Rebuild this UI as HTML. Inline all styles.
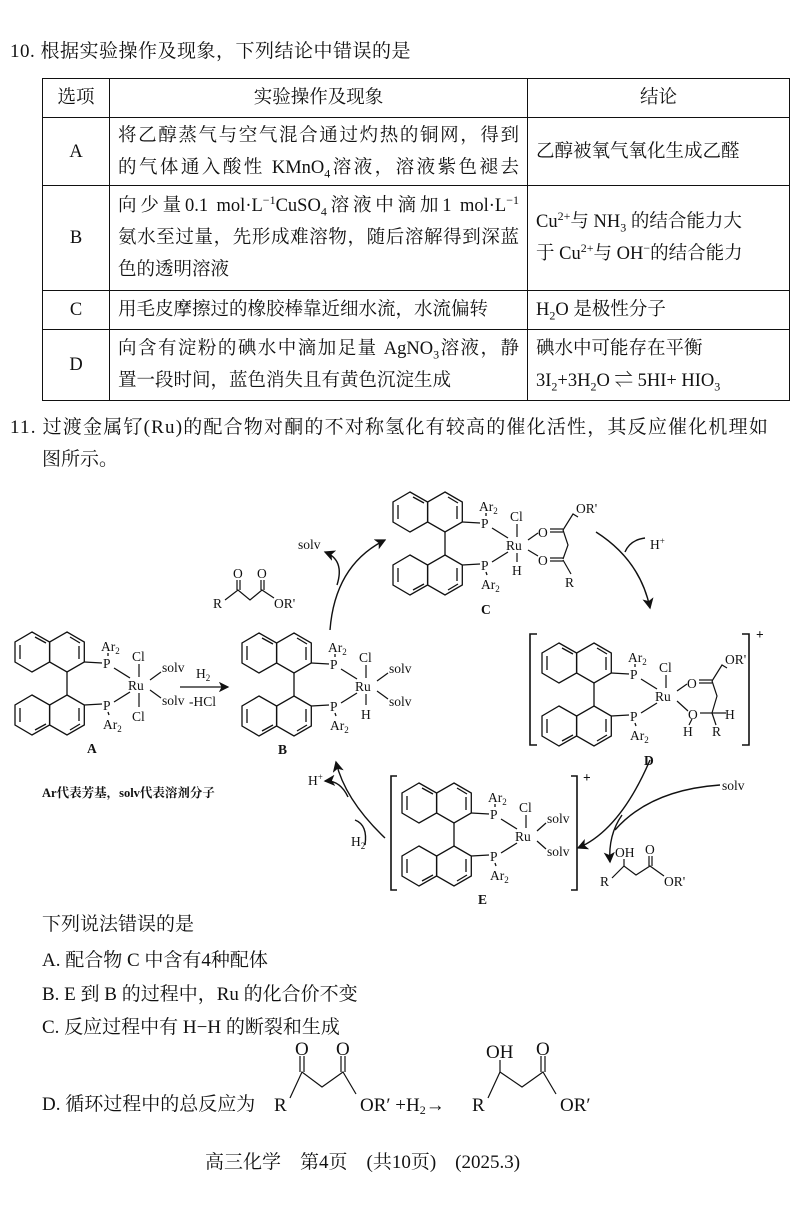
<!DOCTYPE html>
<html><head><meta charset="utf-8">
<style>
body{margin:0;background:#fff;width:800px;height:1224px;position:relative;overflow:hidden;font-family:"Liberation Serif","Noto Serif CJK SC",serif;color:#111}
.t{position:absolute;font-size:19px;white-space:nowrap;line-height:24px}
table{position:absolute;left:42px;top:78px;border-collapse:collapse;font-size:18.5px;table-layout:fixed}
td{border:1.6px solid #111;padding:0 8px;line-height:32px;vertical-align:middle}
.j{text-align:justify;text-align-last:justify;white-space:nowrap}
sub,sup{font-size:12px;line-height:0}
</style></head><body>
<div class="t" style="left:10px;top:40px;letter-spacing:0.5px">10. 根据实验操作及现象，下列结论中错误的是</div>
<table>
<tr style="height:39px"><td style="width:50px;text-align:center">选项</td><td style="width:401px;text-align:center">实验操作及现象</td><td style="width:245px;text-align:center">结论</td></tr>
<tr style="height:68px"><td style="text-align:center">A</td><td><div class="j">将乙醇蒸气与空气混合通过灼热的铜网，得到</div><div class="j">的气体通入酸性 KMnO<sub>4</sub>溶液，溶液紫色褪去</div></td><td>乙醇被氧气氧化生成乙醛</td></tr>
<tr style="height:105px"><td style="text-align:center">B</td><td><div class="j">向少量0.1 mol·L<sup>−1</sup>CuSO<sub>4</sub>溶液中滴加1 mol·L<sup>−1</sup></div><div class="j">氨水至过量，先形成难溶物，随后溶解得到深蓝</div><div>色的透明溶液</div></td><td><div>Cu<sup>2+</sup>与 NH<sub>3</sub> 的结合能力大</div><div>于 Cu<sup>2+</sup>与 OH<sup>−</sup>的结合能力</div></td></tr>
<tr style="height:39px"><td style="text-align:center">C</td><td>用毛皮摩擦过的橡胶棒靠近细水流，水流偏转</td><td>H<sub>2</sub>O 是极性分子</td></tr>
<tr style="height:71px"><td style="text-align:center">D</td><td><div class="j">向含有淀粉的碘水中滴加足量 AgNO<sub>3</sub>溶液，静</div><div>置一段时间，蓝色消失且有黄色沉淀生成</div></td><td>碘水中可能存在平衡<br>3I<sub>2</sub>+3H<sub>2</sub>O ⇌ 5HI+ HIO<sub>3</sub></td></tr>
</table>
<div class="t" style="left:10px;top:416px;letter-spacing:1.2px">11. 过渡金属钌(Ru)的配合物对酮的不对称氢化有较高的催化活性，其反应催化机理如</div>
<div class="t" style="left:42px;top:448px">图所示。</div>

<svg style="position:absolute;left:0;top:0" width="800" height="1224" font-family="Liberation Serif,serif" font-size="13.5" fill="#111">
<defs>
<g id="bn" fill="none" stroke="#111" stroke-width="1.3">
<polygon points="17,0 34.6,10 34.6,30 17,40 0,30 0,10"/>
<polygon points="52,0 69.3,10 69.3,30 52,40 34.6,30 34.6,10"/>
<polygon points="17,63 34.6,73 34.6,93 17,103 0,93 0,73"/>
<polygon points="52,63 69.3,73 69.3,93 52,103 34.6,93 34.6,73"/>
<line x1="52" y1="40" x2="52" y2="63"/>
<line x1="5" y1="13" x2="5" y2="27"/><line x1="20" y1="5" x2="31" y2="11"/>
<line x1="55" y1="5" x2="65" y2="11"/><line x1="64" y1="14" x2="64" y2="27"/>
<line x1="5" y1="76" x2="5" y2="90"/><line x1="20" y1="98" x2="31" y2="92"/>
<line x1="55" y1="98" x2="65" y2="92"/><line x1="64" y1="76" x2="64" y2="89"/>
<line x1="69.3" y1="30" x2="87" y2="31"/><line x1="69.3" y1="73" x2="87" y2="72"/>
<line x1="93" y1="24" x2="93" y2="21"/><line x1="93" y1="80" x2="94" y2="83"/>
<line x1="99" y1="36" x2="115" y2="46"/><line x1="99" y1="70" x2="115" y2="60"/>
</g>
<g id="pp">
<use href="#bn"/>
<text x="88" y="36">P</text><text x="88" y="78">P</text>
<text x="86" y="19">Ar<tspan font-size="9" dy="3">2</tspan></text>
<text x="88" y="97">Ar<tspan font-size="9" dy="3">2</tspan></text>
<text x="113" y="58">Ru</text>
</g>
<marker id="ah" markerWidth="8" markerHeight="8" refX="7" refY="4" orient="auto"><path d="M0,0 L8,4 L0,8 L2,4z" fill="#111"/></marker>
</defs>
<!-- A -->
<g transform="translate(15,632)"><use href="#pp"/>
<g stroke="#111" stroke-width="1.2"><line x1="124" y1="32" x2="124" y2="45"/><line x1="124" y1="61" x2="124" y2="75"/><line x1="135" y1="48" x2="146" y2="40"/><line x1="135" y1="58" x2="146" y2="66"/></g>
<text x="117" y="29">Cl</text><text x="117" y="89">Cl</text><text x="147" y="40">solv</text><text x="147" y="73">solv</text>
<text x="72" y="121" font-weight="bold">A</text></g>
<line x1="180" y1="687" x2="228" y2="687" stroke="#111" stroke-width="1.3" marker-end="url(#ah)"/>
<text x="196" y="678">H<tspan font-size="9" dy="3">2</tspan></text><text x="189" y="706">-HCl</text>
<!-- B -->
<g transform="translate(242,633)"><use href="#pp"/>
<g stroke="#111" stroke-width="1.2"><line x1="124" y1="32" x2="124" y2="45"/><line x1="124" y1="61" x2="124" y2="72"/><line x1="135" y1="48" x2="146" y2="40"/><line x1="135" y1="58" x2="146" y2="66"/></g>
<text x="117" y="29">Cl</text><text x="119" y="86">H</text><text x="147" y="40">solv</text><text x="147" y="73">solv</text>
<text x="36" y="121" font-weight="bold">B</text></g>
<!-- C -->
<g transform="translate(393,492)"><use href="#pp"/>
<g stroke="#111" stroke-width="1.2" fill="none"><line x1="124" y1="32" x2="124" y2="45"/><line x1="124" y1="61" x2="124" y2="70"/>
<line x1="135" y1="48" x2="145" y2="41"/><line x1="135" y1="58" x2="145" y2="64"/>
<line x1="157" y1="37" x2="170" y2="37"/><line x1="157" y1="40" x2="170" y2="40"/>
<line x1="157" y1="66" x2="170" y2="66"/><line x1="157" y1="69" x2="170" y2="69"/>
<polyline points="170,38 180,22 185,25"/><polyline points="170,38 175,53 170,67"/><line x1="170" y1="68" x2="178" y2="82"/></g>
<text x="145" y="45">O</text><text x="145" y="73">O</text><text x="117" y="29">Cl</text><text x="119" y="83">H</text>
<text x="183" y="21">OR'</text><text x="172" y="95">R</text>
<text x="88" y="122" font-weight="bold">C</text></g>
<!-- D -->
<g transform="translate(542,643)"><use href="#pp"/>
<g stroke="#111" stroke-width="1.2" fill="none"><line x1="124" y1="32" x2="124" y2="45"/>
<line x1="135" y1="48" x2="145" y2="41"/><line x1="135" y1="58" x2="146" y2="68"/>
<line x1="157" y1="37" x2="170" y2="37"/><line x1="157" y1="40" x2="170" y2="40"/>
<line x1="158" y1="70" x2="170" y2="70"/><line x1="170" y1="70" x2="184" y2="70"/><line x1="170" y1="70" x2="174" y2="82"/>
<polyline points="170,38 180,22 185,25"/><polyline points="170,38 175,53 170,70"/><line x1="150" y1="76" x2="147" y2="82"/></g>
<text x="145" y="45">O</text><text x="146" y="76">O</text><text x="117" y="29">Cl</text><text x="141" y="93">H</text><text x="183" y="76">H</text>
<text x="183" y="21">OR'</text><text x="170" y="93">R</text>
<text x="102" y="122" font-weight="bold">D</text></g>
<g stroke="#111" stroke-width="1.6" fill="none"><polyline points="537,634 530,634 530,745 537,745"/><polyline points="742,634 749,634 749,745 742,745"/></g>
<text x="756" y="639" font-weight="bold">+</text>
<!-- E -->
<g transform="translate(402,783)"><use href="#pp"/>
<g stroke="#111" stroke-width="1.2"><line x1="124" y1="32" x2="124" y2="45"/><line x1="135" y1="48" x2="144" y2="40"/><line x1="135" y1="58" x2="144" y2="66"/></g>
<text x="117" y="29">Cl</text><text x="145" y="40">solv</text><text x="145" y="73">solv</text>
<text x="76" y="121" font-weight="bold">E</text></g>
<g stroke="#111" stroke-width="1.6" fill="none"><polyline points="397,776 391,776 391,890 397,890"/><polyline points="571,776 577,776 577,890 571,890"/></g>
<text x="583" y="782" font-weight="bold">+</text>
<!-- arrows -->
<g stroke="#111" stroke-width="1.4" fill="none">
<path d="M330,630 Q335,565 385,540" marker-end="url(#ah)"/>
<path d="M337,585 Q345,560 325,552" marker-end="url(#ah)"/>
<path d="M596,532 Q640,560 650,608" marker-end="url(#ah)"/>
<path d="M625,552 Q630,540 645,538"/>
<path d="M650,760 Q620,830 578,848" marker-end="url(#ah)"/>
<path d="M720,785 Q650,790 615,830" />
<path d="M622,815 Q608,835 610,862" marker-end="url(#ah)"/>
<path d="M385,838 Q345,800 336,762" marker-end="url(#ah)"/>
<path d="M348,797 Q340,780 325,781" marker-end="url(#ah)"/>
<path d="M355,820 Q368,825 365,845"/>
</g>
<text x="298" y="549">solv</text>
<text x="650" y="549">H<tspan font-size="9" dy="-5">+</tspan></text>
<text x="308" y="785">H<tspan font-size="9" dy="-5">+</tspan></text>
<text x="351" y="846">H<tspan font-size="9" dy="3">2</tspan></text>
<text x="722" y="790">solv</text>
<!-- diketone top -->
<g stroke="#111" stroke-width="1.2" fill="none"><polyline points="225,600 238,590 250,600 262,590 274,598"/><line x1="237" y1="590" x2="237" y2="580"/><line x1="240" y1="590" x2="240" y2="580"/><line x1="261" y1="590" x2="261" y2="580"/><line x1="264" y1="590" x2="264" y2="580"/></g>
<text x="233" y="578">O</text><text x="257" y="578">O</text><text x="213" y="608">R</text><text x="274" y="608">OR'</text>
<!-- product -->
<g stroke="#111" stroke-width="1.2" fill="none"><polyline points="612,878 624,866 636,875 650,866 664,876"/><line x1="624" y1="866" x2="624" y2="859"/><line x1="649" y1="866" x2="649" y2="856"/><line x1="652" y1="866" x2="652" y2="856"/></g>
<text x="615" y="857">OH</text><text x="645" y="854">O</text><text x="600" y="886">R</text><text x="664" y="886">OR'</text>
<text x="42" y="797" font-size="12.5" font-weight="bold" font-family="Liberation Serif,Noto Serif CJK SC,serif">Ar代表芳基，solv代表溶剂分子</text>
<!-- equation -->
<g stroke="#111" stroke-width="1.2" fill="none">
<polyline points="290,1098 302,1072 322,1087 343,1072 356,1094"/>
<line x1="300" y1="1072" x2="300" y2="1056"/><line x1="304" y1="1072" x2="304" y2="1056"/>
<line x1="341" y1="1072" x2="341" y2="1056"/><line x1="345" y1="1072" x2="345" y2="1056"/>
<polyline points="488,1098 500,1072 522,1087 543,1072 556,1094"/>
<line x1="500" y1="1072" x2="500" y2="1060"/>
<line x1="541" y1="1072" x2="541" y2="1056"/><line x1="545" y1="1072" x2="545" y2="1056"/>
</g>
<g font-size="19"><text x="295" y="1055">O</text><text x="336" y="1055">O</text><text x="274" y="1111">R</text><text x="360" y="1111">OR′ +H<tspan font-size="12" dy="3">2</tspan><tspan dy="-3">→</tspan></text>
<text x="486" y="1058">OH</text><text x="536" y="1055">O</text><text x="472" y="1111">R</text><text x="560" y="1111">OR′</text></g>
</svg>
<div class="t" style="left:42px;top:913px">下列说法错误的是</div>
<div class="t" style="left:42px;top:949px">A. 配合物 C 中含有4种配体</div>
<div class="t" style="left:42px;top:983px">B. E 到 B 的过程中，Ru 的化合价不变</div>
<div class="t" style="left:42px;top:1016px">C. 反应过程中有 H−H 的断裂和生成</div>
<div class="t" style="left:42px;top:1093px">D. 循环过程中的总反应为</div>
<div class="t" style="left:205px;top:1151px">高三化学　第4页　(共10页)　(2025.3)</div>
</body></html>
